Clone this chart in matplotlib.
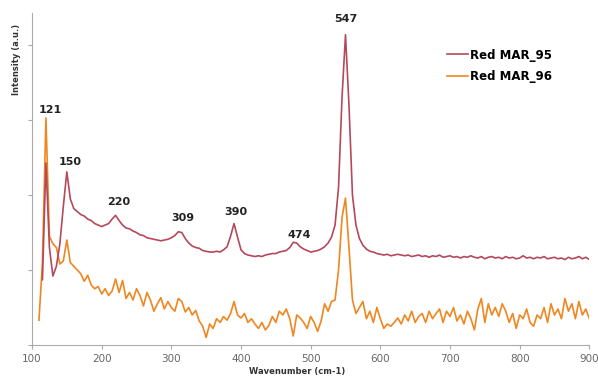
import numpy as np
import matplotlib
matplotlib.use("Agg")
import matplotlib.pyplot as plt

# Raman spectra (arbitrary intensity units)
wn_95 = np.arange(115, 901, 5)
red_95 = [
    0.87, 2.43, 1.30, 0.92, 1.05, 1.35, 1.85, 2.31, 1.95, 1.82,   # 115-160
    1.78, 1.74, 1.72, 1.68, 1.66, 1.62, 1.60, 1.58, 1.60, 1.62,   # 165-210
    1.68, 1.73, 1.66, 1.60, 1.56, 1.55, 1.52, 1.50, 1.47, 1.46,   # 215-260
    1.43, 1.42, 1.41, 1.40, 1.39, 1.40, 1.41, 1.43, 1.46, 1.51,   # 265-310
    1.50, 1.42, 1.36, 1.32, 1.30, 1.29, 1.26, 1.25, 1.24, 1.24,   # 315-360
    1.25, 1.24, 1.27, 1.31, 1.45, 1.62, 1.44, 1.27, 1.22, 1.20,   # 365-410
    1.19, 1.18, 1.19, 1.18, 1.20, 1.21, 1.22, 1.22, 1.24, 1.25,   # 415-460
    1.26, 1.30, 1.37, 1.36, 1.31, 1.28, 1.26, 1.24, 1.25, 1.26,   # 465-510
    1.28, 1.31, 1.36, 1.44, 1.60, 2.10, 3.30, 4.14, 3.20, 2.00,   # 515-560
    1.60, 1.42, 1.33, 1.28, 1.25, 1.24, 1.22, 1.21, 1.20, 1.21,   # 565-610
    1.19, 1.20, 1.21, 1.20, 1.19, 1.20, 1.18, 1.19, 1.20, 1.18,   # 615-660
    1.19, 1.17, 1.19, 1.18, 1.20, 1.17, 1.18, 1.19, 1.17, 1.18,   # 665-710
    1.16, 1.18, 1.17, 1.19, 1.17, 1.16, 1.18, 1.15, 1.17, 1.18,   # 715-760
    1.16, 1.17, 1.15, 1.18, 1.16, 1.17, 1.15, 1.16, 1.19, 1.16,   # 765-810
    1.17, 1.15, 1.17, 1.16, 1.18, 1.15, 1.16, 1.17, 1.15, 1.16,   # 815-860
    1.14, 1.17, 1.15, 1.16, 1.18, 1.15, 1.17, 1.14,               # 865-900
]

wn_96 = np.arange(110, 901, 5)
orange_96 = [
    0.33, 1.10, 3.03, 1.45, 1.35, 1.30, 1.08, 1.12, 1.40, 1.10,   # 110-155
    1.05, 1.00, 0.95, 0.85, 0.93, 0.80, 0.75, 0.78, 0.68, 0.75,   # 160-205
    0.66, 0.72, 0.88, 0.70, 0.86, 0.62, 0.70, 0.60, 0.75, 0.66,   # 210-255
    0.52, 0.70, 0.60, 0.45, 0.55, 0.63, 0.48, 0.58, 0.50, 0.45,   # 260-305
    0.62, 0.58, 0.44, 0.50, 0.40, 0.46, 0.32, 0.25, 0.10, 0.28,   # 310-355
    0.22, 0.35, 0.30, 0.38, 0.33, 0.42, 0.58, 0.40, 0.36, 0.42,   # 360-405
    0.30, 0.35, 0.28, 0.22, 0.30, 0.20, 0.26, 0.38, 0.30, 0.45,   # 410-455
    0.40, 0.48, 0.35, 0.12, 0.40, 0.36, 0.30, 0.22, 0.38, 0.30,   # 460-505
    0.18, 0.32, 0.55, 0.45, 0.58, 0.60, 1.00, 1.70, 1.96, 1.30,   # 510-555
    0.60, 0.42, 0.50, 0.58, 0.35, 0.45, 0.30, 0.50, 0.35, 0.22,   # 560-605
    0.28, 0.25, 0.30, 0.36, 0.28, 0.40, 0.32, 0.45, 0.30, 0.38,   # 610-655
    0.42, 0.30, 0.45, 0.35, 0.42, 0.48, 0.30, 0.45, 0.38, 0.50,   # 660-705
    0.32, 0.40, 0.28, 0.45, 0.35, 0.20, 0.48, 0.62, 0.30, 0.55,   # 710-755
    0.40, 0.50, 0.38, 0.55, 0.45, 0.30, 0.42, 0.22, 0.40, 0.35,   # 760-805
    0.48, 0.30, 0.25, 0.40, 0.35, 0.50, 0.30, 0.55, 0.40, 0.48,   # 810-855
    0.35, 0.62, 0.45, 0.55, 0.35, 0.58, 0.40, 0.48, 0.35,         # 860-900
]

# peak labels: text, x, y
peak_text = ["121", "150", "220", "309", "390", "474", "547"]
peak_x = [126, 155, 225, 316, 393, 483, 550]
peak_y = [3.13, 2.44, 1.91, 1.69, 1.78, 1.47, 4.35]

fig = plt.figure(figsize=(5.98, 3.82), dpi=100)
ax = fig.add_axes([0.0535, 0.097, 0.932, 0.869])

ax.plot(wn_96, orange_96, color="#f0861f", lw=1.2, label="Red MAR_96", zorder=2)
ax.plot(wn_95, red_95, color="#b5485b", lw=1.2, label="Red MAR_95", zorder=3)

for t, x, y in zip(peak_text, peak_x, peak_y):
    ax.text(x, y, t, ha="center", va="center", fontsize=8, fontweight="bold", color="#222222")

ax.set_xlim(100, 900)
ax.set_ylim(0, 4.43)
ax.set_xticks(range(100, 901, 100))
ax.set_yticks([0, 1, 2, 3, 4])
ax.set_yticklabels([])

for s in ["top", "right"]:
    ax.spines[s].set_visible(False)
for s in ["left", "bottom"]:
    ax.spines[s].set_color("#aaaaaa")
ax.tick_params(axis="both", colors="#aaaaaa", length=3, labelcolor="#666666", labelsize=7.5)

fig.text(0.497, 0.027, "Wavenumber (cm-1)", ha="center", va="center",
         fontsize=6, fontweight="bold", color="#333333")
fig.text(0.027, 0.845, "Intensity (a.u.)", ha="center", va="center", rotation=90,
         fontsize=6, fontweight="bold", color="#333333")

handles, labels = ax.get_legend_handles_labels()
ax.legend(handles[::-1], labels[::-1], loc="upper left", bbox_to_anchor=(0.745, 0.893),
          frameon=False, prop={"weight": "bold", "size": 8.5},
          handlelength=1.8, handletextpad=0.15, labelspacing=0.75,
          borderaxespad=0, borderpad=0)

fig.savefig("out.png", dpi=100)
